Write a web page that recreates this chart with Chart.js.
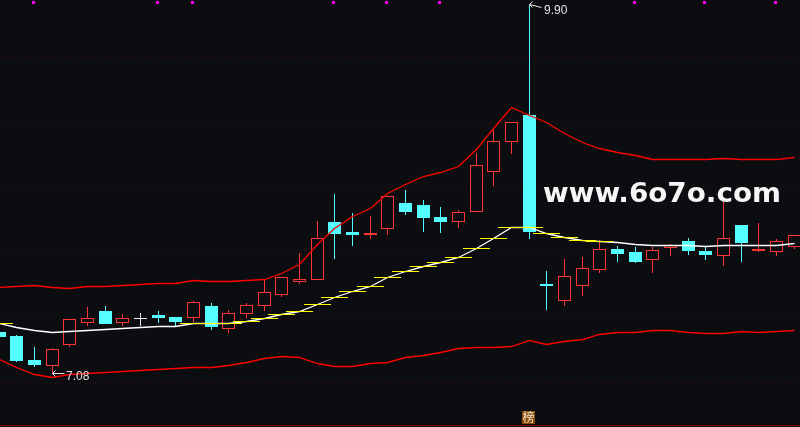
<!DOCTYPE html>
<html lang="zh">
<head>
  <meta charset="UTF-8" />
  <title>K线图</title>
  <script src="https://cdn.jsdelivr.net/npm/chart.js"></script>
  <style>
    html, body { margin: 0; padding: 0; background: #0c0d10; overflow: hidden; }
    canvas { display: block; }
  </style>
</head>
<body>
  <canvas id="grafico" width="800" height="427"></canvas>

  <script>
    const opens = [7.394,7.364,7.180,7.134,7.295,7.463,7.555,7.463,7.501,7.524,7.509,7.501,7.593,7.417,7.532,7.593,
      7.678,7.777,7.793,8.237,8.161,8.138,8.184,8.383,8.367,8.276,8.237,8.314,8.620,8.850,9.057,
      7.762,7.632,7.747,7.869,8.030,8.007,7.946,8.038,8.092,8.015,7.977,8.214,8.015,8.007,8.046];
    const highs = [7.394,7.371,7.279,7.272,7.494,7.586,7.593,7.532,7.540,7.555,7.509,7.632,7.617,7.563,7.617,7.793,
      7.816,8.000,8.245,8.452,8.306,8.283,8.436,8.482,8.406,8.352,8.329,8.766,8.942,9.003,9.900,
      7.862,7.954,7.969,8.099,8.053,8.046,8.046,8.069,8.115,8.053,8.406,8.214,8.230,8.107,8.138];
    const lows = [7.356,7.164,7.126,7.080,7.279,7.440,7.455,7.440,7.440,7.463,7.432,7.471,7.409,7.386,7.501,7.555,
      7.662,7.762,7.793,7.954,8.053,8.107,8.138,8.291,8.161,8.153,8.191,8.314,8.513,8.758,8.107,
      7.563,7.593,7.670,7.846,7.931,7.923,7.846,7.977,7.984,7.946,7.900,7.931,8.007,7.977,8.030];
    const closes = [7.356,7.172,7.141,7.264,7.494,7.501,7.455,7.501,7.494,7.501,7.471,7.625,7.432,7.540,7.601,7.701,
      7.816,7.800,8.115,8.145,8.138,8.153,8.436,8.314,8.268,8.237,8.314,8.674,8.858,9.003,8.161,
      7.747,7.823,7.885,8.030,7.992,7.931,8.023,8.061,8.015,7.984,8.115,8.076,8.030,8.092,8.138];

    const bandUpper = [7.735,7.743,7.751,7.735,7.728,7.743,7.743,7.751,7.758,7.766,7.766,7.789,7.781,7.781,7.789,7.800,
      7.841,7.908,8.061,8.191,8.276,8.337,8.452,8.521,8.582,8.613,8.659,8.789,8.957,9.111,9.057,
      8.999,8.919,8.850,8.797,8.766,8.743,8.716,8.716,8.716,8.716,8.724,8.716,8.716,8.716,8.728];
    const bandMid = [7.461,7.427,7.407,7.392,7.400,7.407,7.415,7.423,7.430,7.438,7.438,7.461,7.461,7.461,7.476,7.499,
      7.530,7.553,7.606,7.660,7.706,7.744,7.813,7.859,7.898,7.928,7.967,8.036,8.112,8.197,8.197,
      8.151,8.120,8.097,8.089,8.082,8.066,8.059,8.059,8.059,8.051,8.059,8.059,8.059,8.059,8.074];
    const bandLower = [7.187,7.124,7.065,7.049,7.065,7.075,7.085,7.093,7.101,7.108,7.116,7.124,7.124,7.139,7.159,7.190,
      7.204,7.196,7.149,7.126,7.126,7.149,7.164,7.195,7.212,7.235,7.266,7.274,7.274,7.282,7.328,
      7.297,7.321,7.336,7.375,7.390,7.390,7.406,7.406,7.390,7.383,7.383,7.398,7.390,7.398,7.406];

    const risingBars = [0,11,12,13,14,15,16,17,18,19,20,21,22,23,24,25,26,27,28,29,30,31,32,33,34];
    const markerBars = [1.94,8.96,10.94,18.93,21.93,24.93,35.96,39.93,43.94];
    const gridPrices = [9.505,8.999,8.501,8.003,7.498,6.999];
    const markerPrice = 9.919;
    const floorPrice = 6.680;

    const noteBars = [30,3];
    const notePrices = [9.900,7.080];
    const noteLabels = ['9.90','7.08'];
    const watermark = 'www.6o7o.com';
    const badgeLabel = '榜';
    const badgeBar = 30;

    const FONDO = '#0c0d10';
    const ROJO = '#ff3535';
    const CIAN = '#55ffff';

    // escala lineal que cae en pixeles enteros, como el grafico original
    class SnapScale extends Chart.LinearScale {
      static id = 'snap';
      static defaults = Chart.LinearScale.defaults;
      getPixelForValue(value) {
        const p = super.getPixelForValue(value);
        return this.options.snapEdge ? Math.round(p) : Math.floor(p) + 0.5;
      }
    }
    Chart.register(SnapScale);

    const bars = opens.map((_, i) => i);
    const isFlat = i => Math.abs(closes[i] - opens[i]) < 0.008;
    const isUp = i => !isFlat(i) && closes[i] > opens[i];
    const barColor = i => isFlat(i) ? '#e8e8e8' : isUp(i) ? ROJO : CIAN;
    const bodyFill = i => isUp(i) ? FONDO : barColor(i);

    const linePoints = values => values.map((y, x) => ({ x, y }));
    const lineStyle = {
      type: 'line', yAxisID: 'yLine', pointRadius: 0, tension: 0, borderWidth: 1.3
    };
    const candleStyle = {
      type: 'bar', yAxisID: 'y', grouped: false, barPercentage: 1, categoryPercentage: 1,
      inflateAmount: 0, borderSkipped: false
    };

    const textos = {
      id: 'textos',
      afterDraw(chart) {
        const { ctx, scales } = chart;
        ctx.save();
        ctx.strokeStyle = '#e8e8e8';
        ctx.fillStyle = '#e0e0e0';
        ctx.lineWidth = 1;
        ctx.font = '12px "Liberation Sans"';
        ctx.textBaseline = 'alphabetic';
        noteLabels.forEach((label, n) => {
          const x = scales.x.getPixelForValue(noteBars[n]);
          const y = scales.yLine.getPixelForValue(notePrices[n]);
          const slope = n === 0 ? 3 : 0;
          ctx.beginPath();
          ctx.moveTo(x, y);
          ctx.lineTo(x + 12, y + slope);
          ctx.moveTo(x + 3, y - 3);
          ctx.lineTo(x, y);
          ctx.lineTo(x + 3, y + 3);
          ctx.stroke();
          ctx.fillText(label, x + (n === 0 ? 14.5 : 13.5), y + (n === 0 ? 9 : 6));
        });

        ctx.save();
        ctx.translate(543, 202);
        ctx.scale(1.07, 1);
        ctx.font = 'bold 26px "DejaVu Sans"';
        ctx.fillStyle = '#f6f6f6';
        ctx.fillText(watermark, 0, 0);
        ctx.restore();

        const bx = Math.floor(scales.x.getPixelForValue(badgeBar));
        ctx.fillStyle = '#8a4a08';
        ctx.fillRect(bx - 7, 411, 13, 13);
        ctx.fillStyle = '#f4e6d0';
        ctx.font = '12px "Noto Sans CJK SC"';
        ctx.textAlign = 'center';
        ctx.textBaseline = 'middle';
        ctx.fillText(badgeLabel, bx - 0.5, 417.5);
        ctx.restore();
      }
    };

    new Chart(document.getElementById('grafico'), {
      data: {
        datasets: [
          {
            ...candleStyle, order: 6, maxBarThickness: 1,
            data: bars.map(i => ({ x: i, y: [lows[i], highs[i]] })),
            backgroundColor: bars.map(barColor), borderWidth: 0
          },
          {
            ...candleStyle, order: 5, maxBarThickness: 13,
            data: bars.map(i => ({ x: i, y: [opens[i], closes[i]] })),
            backgroundColor: bars.map(bodyFill),
            borderColor: ROJO,
            borderWidth: bars.map(i => isUp(i) ? 1 : 0)
          },
          { ...lineStyle, order: 3, data: linePoints(bandMid), borderColor: '#ffffff' },
          {
            ...lineStyle, order: 2, showLine: false,
            data: risingBars.map(i => ({ x: i, y: bandMid[i] })),
            pointStyle: 'line', pointRadius: 13.5, pointBorderWidth: 1, pointBorderColor: '#ffff00'
          },
          { ...lineStyle, order: 1, data: linePoints(bandUpper), borderColor: '#ff0000' },
          { ...lineStyle, order: 1, data: linePoints(bandLower), borderColor: '#ff0000' },
          {
            ...lineStyle, order: 4, borderWidth: 1,
            data: [{ x: 0, y: floorPrice }, { x: 46, y: floorPrice }], borderColor: '#7a0000'
          },
          {
            ...lineStyle, order: 0, showLine: false,
            data: markerBars.map(x => ({ x, y: markerPrice })),
            pointStyle: 'rect', pointRadius: 2.13, pointBackgroundColor: '#ff00ff', pointBorderWidth: 0
          }
        ]
      },
      options: {
        responsive: false,
        animation: false,
        events: [],
        layout: { padding: 0, autoPadding: false },
        plugins: { legend: { display: false }, tooltip: { enabled: false } },
        scales: {
          x: { type: 'snap', display: false, offset: false, min: 0.0481, max: 45.33 },
          y: { type: 'snap', snapEdge: true, display: false, min: 6.6662, max: 9.9383 },
          yLine: {
            type: 'snap', min: 6.6662, max: 9.9383, position: 'left',
            afterBuildTicks: scale => { scale.ticks = gridPrices.map(value => ({ value })); },
            afterFit: scale => { scale.width = 0; },
            ticks: { display: false },
            border: { display: false, dash: [1, 4] },
            grid: { color: '#4a0a0a', lineWidth: 1, drawTicks: false }
          }
        }
      },
      plugins: [textos]
    });
  </script>
</body>
</html>
